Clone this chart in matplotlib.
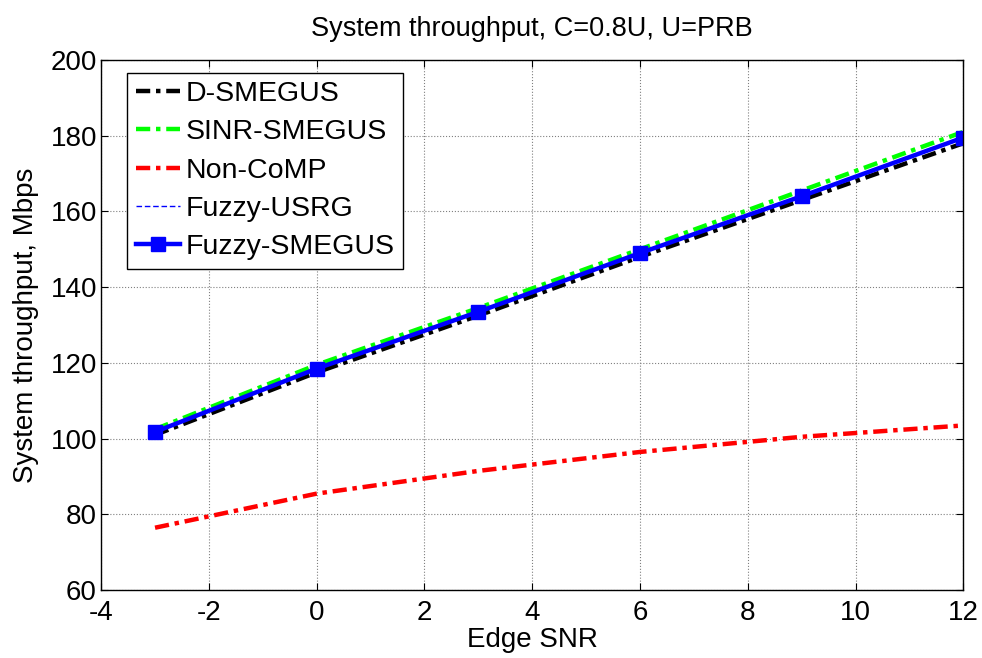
import matplotlib.pyplot as plt

plt.rcParams['font.family'] = ['Liberation Sans', 'DejaVu Sans']
plt.rcParams['axes.unicode_minus'] = False

# Edge SNR points and throughput (Mbps) for each scheme
edge_snr = [-3, 0, 3, 6, 9, 12]
d_smegus = [101.0, 117.5, 132.5, 148.0, 163.0, 178.0]
sinr_smegus = [102.5, 119.5, 134.5, 150.0, 165.5, 181.0]
non_comp = [76.5, 85.5, 91.5, 96.5, 100.5, 103.5]
fuzzy_usrg = [101.8, 118.5, 133.5, 149.0, 164.0, 179.5]
fuzzy_smegus = [101.8, 118.5, 133.5, 149.0, 164.0, 179.5]

x_ticks = list(range(-4, 13, 2))
y_ticks = list(range(60, 201, 20))

dashdot = (0, (3.2, 1.3, 1.0, 1.3))

fig = plt.figure(figsize=(9.82, 6.58), dpi=100)
ax = fig.add_axes([0.103, 0.103, 0.878, 0.806])

ax.plot(edge_snr, d_smegus, color='black', lw=3.2, ls=dashdot, label='D-SMEGUS')
ax.plot(edge_snr, sinr_smegus, color='#00ff00', lw=3.2, ls=dashdot, label='SINR-SMEGUS')
ax.plot(edge_snr, non_comp, color='red', lw=3.2, ls=dashdot, label='Non-CoMP')
ax.plot(edge_snr, fuzzy_usrg, color='blue', lw=1, ls=(0, (4, 2)), label='Fuzzy-USRG')
ax.plot(edge_snr, fuzzy_smegus, color='blue', lw=3.2, marker='s', ms=10,
        label='Fuzzy-SMEGUS')

ax.set_xlim(-4, 12)
ax.set_ylim(60, 200)
ax.set_xticks(x_ticks)
ax.set_yticks(y_ticks)
ax.tick_params(direction='in', top=True, right=True, labelsize=20, length=5)
ax.tick_params(axis='x', pad=7)
ax.tick_params(axis='y', pad=3)
ax.grid(True, color='#808080', ls=':', lw=0.8)
for s in ax.spines.values():
    s.set_linewidth(1.0)

ax.set_title('System throughput, C=0.8U, U=PRB', fontsize=19.5, pad=17)
ax.set_xlabel('Edge SNR', fontsize=20, labelpad=1)
ax.set_ylabel('System throughput, Mbps', fontsize=20, labelpad=8)

leg = ax.legend(loc='upper left', fontsize=20.5, handlelength=1.55, handletextpad=0.2,
                borderpad=0.3, labelspacing=0.43, borderaxespad=0,
                fancybox=False, framealpha=1, edgecolor='black',
                bbox_to_anchor=(0.0302, 0.976))
leg.get_frame().set_linewidth(1.0)

fig.savefig('out.png', dpi=100)
